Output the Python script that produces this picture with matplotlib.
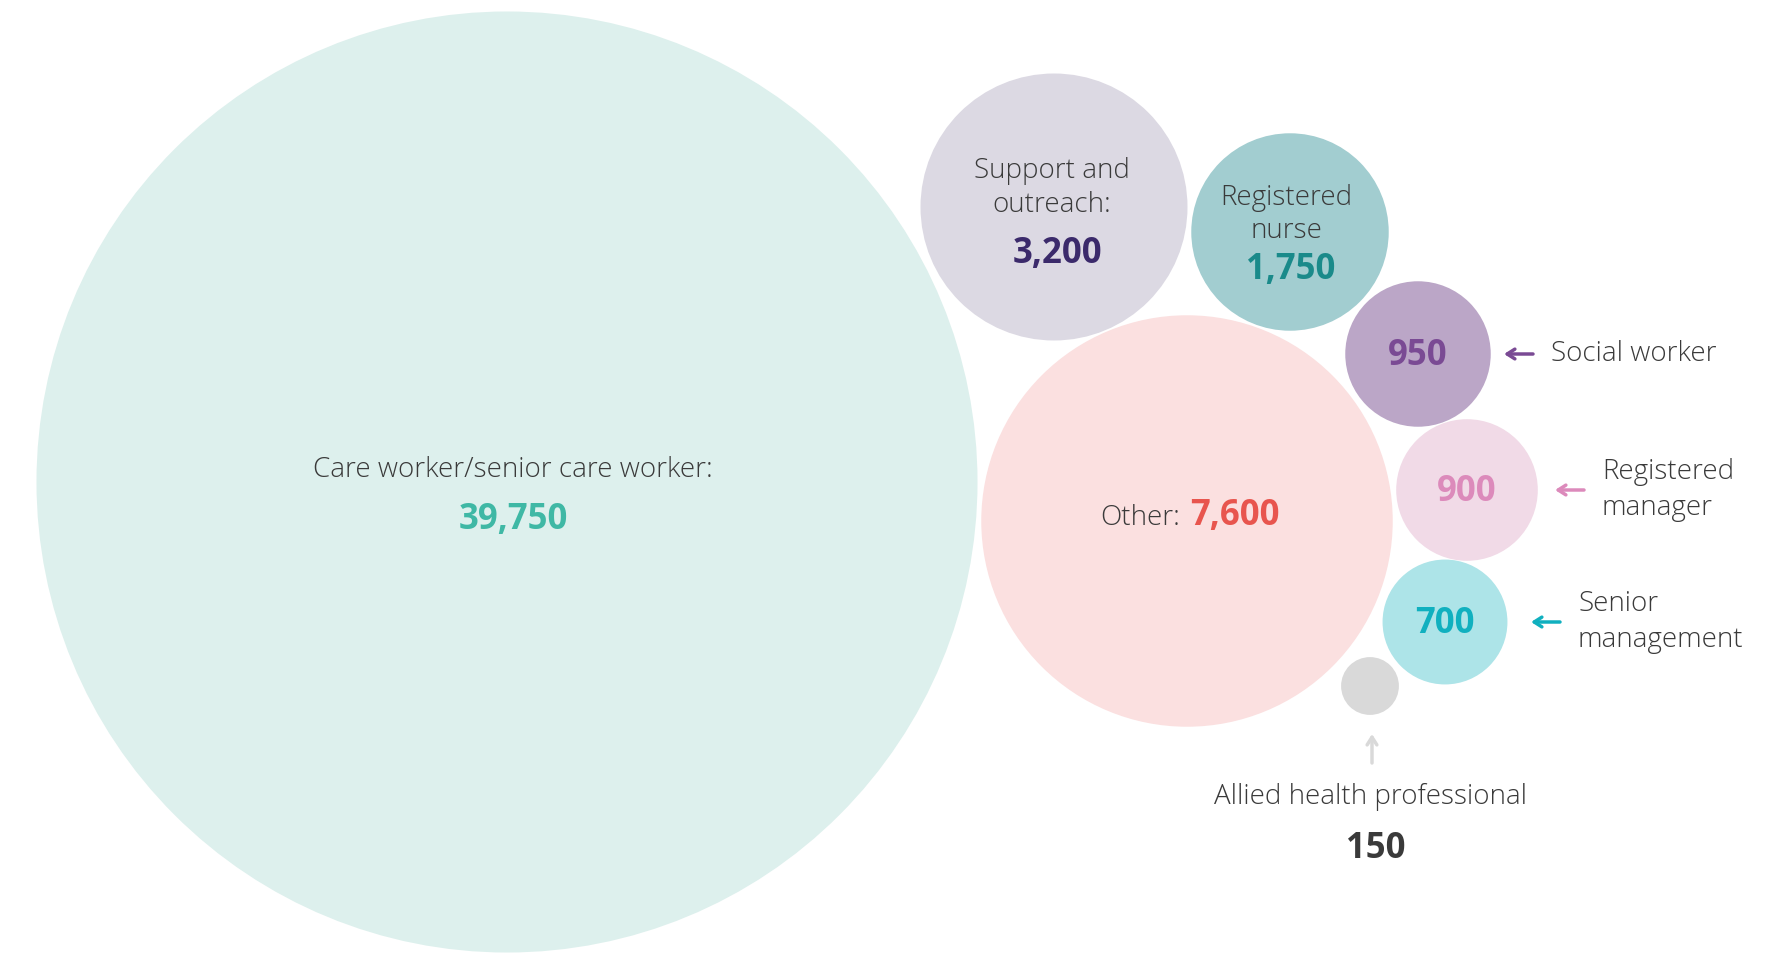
import numpy as np
import matplotlib.pyplot as plt
from matplotlib.patches import Circle

plt.rcParams['font.family'] = ['Open Sans', 'DejaVu Sans']

# data
roles = ["Care worker/senior care worker", "Other", "Support and outreach",
         "Registered nurse", "Social worker", "Registered manager",
         "Senior management", "Allied health professional"]
counts = [39750, 7600, 3200, 1750, 950, 900, 700, 150]
value_labels = ["39,750", "7,600", "3,200", "1,750", "950", "900", "700", "150"]

# styles
fills = ["#ddf0ed", "#fbe0e0", "#dcd9e3", "#a2cdd0", "#bba6c7", "#f1dae7", "#ade4e8", "#d9d9d9"]
accents = ["#3fb8a5", "#e8554e", "#3b2a6b", "#1a8a8a", "#7a4a94", "#dc8abb", "#10b0bf", "#d9d9d9"]
grey = "#3a3a3a"

# layout (pixel centres of the packed bubbles)
centres = [(507, 482), (1187, 521), (1054, 207), (1290, 232),
           (1418, 354), (1467, 490), (1445, 622), (1370, 686)]
k = 2.36  # px per sqrt(count)

fig = plt.figure(figsize=(17.88, 9.59), dpi=100)
ax = fig.add_axes([0, 0, 1, 1])
ax.set_xlim(0, 1788)
ax.set_ylim(959, 0)
ax.set_aspect('equal')
ax.axis('off')

for (cx, cy), v, fc in zip(centres, counts, fills):
    ax.add_patch(Circle((cx, cy), k * np.sqrt(v), facecolor=fc, edgecolor='none'))

fs = 20
lab = dict(color=grey, fontsize=fs, fontweight='light', ha='center', va='center')
val = dict(fontsize=25, fontweight='bold', ha='center', va='center')
arrow = '->,head_length=0.55,head_width=0.35'

# Care worker
cx, cy = centres[0]
ax.text(cx + 6, cy - 12, roles[0] + ":", **lab)
ax.text(cx + 6, cy + 38, value_labels[0], color=accents[0], **val)

# Other
cx, cy = centres[1]
ax.text(cx - 7, cy - 3, "Other:", color=grey, fontsize=fs, fontweight='light',
        ha='right', va='center')
ax.text(cx + 3, cy - 5, value_labels[1], color=accents[1], fontsize=25,
        fontweight='bold', ha='left', va='center')

# Support and outreach
cx, cy = centres[2]
ax.text(cx - 2, cy - 36, "Support and", **lab)
ax.text(cx - 2, cy - 2, "outreach:", **lab)
ax.text(cx + 3, cy + 47, value_labels[2], color=accents[2], **val)

# Registered nurse
cx, cy = centres[3]
ax.text(cx - 4, cy - 34, "Registered", **lab)
ax.text(cx - 4, cy - 1, "nurse", **lab)
ax.text(cx + 1, cy + 38, value_labels[3], color=accents[3], **val)

# small bubbles with side labels
side = [(4, "Social worker"), (5, "Registered\nmanager"), (6, "Senior\nmanagement")]
arrow_gap = [(86, 115), (88, 117), (86, 115)]
for (i, name), (g0, g1) in zip(side, arrow_gap):
    cx, cy = centres[i]
    ax.text(cx, cy + 2, value_labels[i], color=accents[i], **val)
    ax.annotate("", xy=(cx + g0, cy), xytext=(cx + g1, cy),
                arrowprops=dict(arrowstyle=arrow, color=accents[i], lw=2.5,
                                shrinkA=0, shrinkB=0))
    ax.text(cx + g1 + 18, cy, name, color=grey, fontsize=fs, fontweight='light',
            ha='left', va='center', linespacing=1.35)

# Allied health professional
cx, cy = centres[7]
ax.annotate("", xy=(cx + 2, 734), xytext=(cx + 2, 763),
            arrowprops=dict(arrowstyle=arrow, color=accents[7], lw=2.5,
                            shrinkA=0, shrinkB=0))
ax.text(cx + 1, 797, roles[7], **lab)
ax.text(cx + 6, 849, value_labels[7], color="#3a3a3a", **val)

fig.savefig("out.png", dpi=100)
